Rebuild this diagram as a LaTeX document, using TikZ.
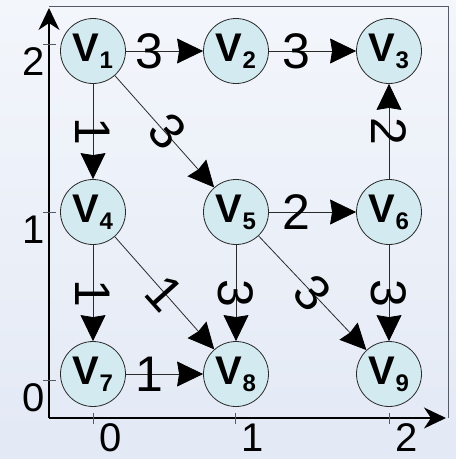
\documentclass[tikz,border=0pt]{standalone}
\usepackage{fontspec}
\setmainfont{Liberation Sans}
\usepackage{xcolor}
\usetikzlibrary{arrows.meta, positioning, calc}

\definecolor{hgoben}{HTML}{F3F6FB}
\definecolor{hgunten}{HTML}{E3E9F5}
\definecolor{knotenfarbe}{HTML}{D3EBF0}
\definecolor{randfarbe}{HTML}{2A2A2A}
\definecolor{rahmenfarbe}{HTML}{555A66}

% Knotenbeschriftung V mit Index
\newcommand{\vname}[1]{{\fontsize{40}{40}\selectfont\bfseries V}\raisebox{-7pt}{\fontsize{24}{24}\selectfont\bfseries #1}}

\tikzset{
  knoten/.style={circle, draw=randfarbe, fill=knotenfarbe, line width=0.8pt,
                 minimum size=65pt, inner sep=0pt},
  kante/.style={-{Stealth[length=26pt, width=25pt, inset=2pt, black]}, draw=randfarbe, line width=0.8pt},
  gewicht/.style={font=\fontsize{50}{50}\selectfont, inner sep=0pt},
  achse/.style={-{Stealth[length=22pt, width=21pt, inset=7pt]}, line width=1.3pt},
  skala/.style={font=\fontsize{40}{40}\selectfont, inner sep=0pt},
}

\begin{document}
\begin{tikzpicture}[x=1pt, y=-1pt]

  % Hintergrund
  \useasboundingbox (0,0) rectangle (456,459);
  \shade[top color=hgoben, bottom color=hgunten] (0,0) rectangle (456,459);

  % Rahmen
  \draw[rahmenfarbe, line width=0.9pt] (49,6) -- (448,6) -- (448,418);

  % Achsen
  \coordinate (O) at (49,418);
  \coordinate (xend) at (446,418);
  \coordinate (yend) at (49,8);
  \draw[achse] (O) -- (xend);
  \draw[achse] (O) -- (yend);

  % Teilstriche und Beschriftung
  \foreach \x/\t in {93/0, 235/1, 389/2} {
    \draw[rahmenfarbe, line width=0.8pt] (\x,413) -- (\x,424);
    \node[skala] (xt\t) at (\x+18,438) {\t};
  }
  \foreach \y/\t in {44/2, 212/1, 380/0} {
    \draw[rahmenfarbe, line width=0.8pt] (43,\y) -- (56,\y);
    \node[skala] (yt\t) at (34,\y+18) {\t};
  }

  % Knoten
  \node[knoten] (v1) at (93,51)   {\vname{1}};
  \node[knoten] (v2) at (236,51)  {\vname{2}};
  \node[knoten] (v3) at (389,51)  {\vname{3}};
  \node[knoten] (v4) at (93,212)  {\vname{4}};
  \node[knoten] (v5) at (236,212) {\vname{5}};
  \node[knoten] (v6) at (389,212) {\vname{6}};
  \node[knoten] (v7) at (93,374)  {\vname{7}};
  \node[knoten] (v8) at (236,374) {\vname{8}};
  \node[knoten] (v9) at (389,374) {\vname{9}};

  % waagerechte Kanten
  \draw[kante] (v1) -- node[gewicht, pos=0.31] (g12) {3} (v2);
  \draw[kante] (v2) -- node[gewicht, pos=0.31] (g23) {3} (v3);
  \draw[kante] (v5) -- node[gewicht, pos=0.31] (g56) {2} (v6);
  \draw[kante] (v7) -- node[gewicht, pos=0.31] (g78) {1} (v8);

  % senkrechte Kanten
  \draw[kante] (v1) -- node[gewicht, rotate=-90] (g14) {1} (v4);
  \draw[kante] (v4) -- node[gewicht, rotate=-90] (g47) {1} (v7);
  \draw[kante] (v6) -- node[gewicht, rotate=-90] (g63) {2} (v3);
  \draw[kante] (v5) -- node[gewicht, rotate=-90] (g58) {3} (v8);
  \draw[kante] (v6) -- node[gewicht, rotate=-90] (g69) {3} (v9);

  % schraege Kanten
  \draw[kante] (v1) -- node[gewicht, rotate=-48, xshift=2pt, yshift=3pt] (g15) {3} (v5);
  \draw[kante] (v4) -- node[gewicht, rotate=-48] (g48) {1} (v8);
  \draw[kante] (v5) -- node[gewicht, rotate=-47] (g59) {3} (v9);

\end{tikzpicture}
\end{document}
